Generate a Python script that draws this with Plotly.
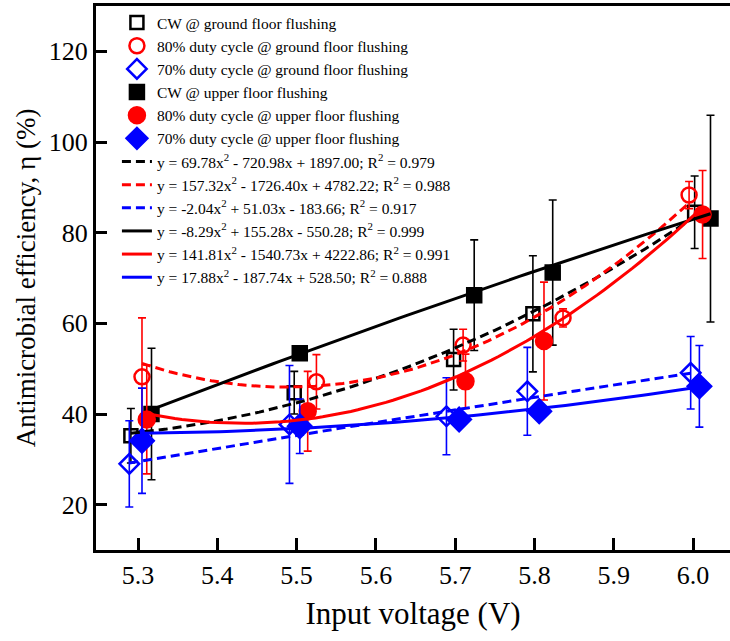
import numpy as np
import plotly.graph_objects as go

# ---- data ----
gnd_cw_x = [5.291, 5.497, 5.698, 5.798, 6.002]
gnd_cw_y = [35.2, 44.7, 52.0, 62.1, 84.5]
gnd_cw_e = [6.0, 4.7, 6.7, 12.8, 8.0]

gnd_80_x = [5.305, 5.525, 5.710, 5.836, 5.995]
gnd_80_y = [48.2, 47.1, 55.2, 61.2, 88.3]
gnd_80_e = [13.0, 6.0, 3.5, 2.0, 3.0]

gnd_70_x = [5.289, 5.491, 5.689, 5.791, 5.997]
gnd_70_y = [29.0, 37.7, 39.5, 45.0, 49.1]
gnd_70_e = [9.5, 13.0, 8.5, 9.7, 8.0]

up_cw_x = [5.317, 5.504, 5.724, 5.823, 6.022]
up_cw_y = [40.0, 53.4, 66.2, 71.2, 83.1]
up_cw_e = [14.5, 1.5, 12.2, 16.0, 22.8]

up_80_x = [5.311, 5.514, 5.713, 5.812, 6.012]
up_80_y = [38.8, 40.6, 47.2, 56.1, 84.0]
up_80_e = [12.0, 8.8, 6.0, 13.0, 9.7]

up_70_x = [5.305, 5.504, 5.705, 5.806, 6.008]
up_70_y = [34.1, 37.3, 38.8, 40.6, 46.1]
up_70_e = [11.6, 6.0, 1.5, 1.5, 9.0]

# quadratic fit coefficients (a, b, c) and R^2 as printed in the legend
fit_gnd_cw = [69.78, -720.98, 1897.00, 0.979]
fit_gnd_80 = [157.32, -1726.40, 4782.22, 0.988]
fit_gnd_70 = [-2.04, 51.03, -183.66, 0.917]
fit_up_cw = [-8.29, 155.28, -550.28, 0.999]
fit_up_80 = [141.81, -1540.73, 4222.86, 0.991]
fit_up_70 = [17.88, -187.74, 528.50, 0.888]

x_ticks = [5.3, 5.4, 5.5, 5.6, 5.7, 5.8, 5.9, 6.0]
x_tick_text = ["5.3", "5.4", "5.5", "5.6", "5.7", "5.8", "5.9", "6.0"]
y_ticks = [20, 40, 60, 80, 100, 120]

BLACK, RED, BLUE = "#000000", "#ff0000", "#0000ff"
FONT = "Liberation Serif"

fig = go.Figure()

marker_series = [
    ("CW @ ground floor flushing", gnd_cw_x, gnd_cw_y, gnd_cw_e, BLACK, "square-open", 13),
    ("80% duty cycle @ ground floor flushing", gnd_80_x, gnd_80_y, gnd_80_e, RED, "circle-open", 15),
    ("70% duty cycle @ ground floor flushing", gnd_70_x, gnd_70_y, gnd_70_e, BLUE, "diamond-open", 15),
    ("CW @ upper floor flushing", up_cw_x, up_cw_y, up_cw_e, BLACK, "square", 14),
    ("80% duty cycle @ upper floor flushing", up_80_x, up_80_y, up_80_e, RED, "circle", 16),
    ("70% duty cycle @ upper floor flushing", up_70_x, up_70_y, up_70_e, BLUE, "diamond", 18),
]

for name, xs, ys, es, col, sym, sz in marker_series:
    fig.add_trace(go.Scatter(
        x=xs, y=ys, mode="markers", name=name,
        marker=dict(symbol=sym, size=sz, color=col,
                    line=dict(color=col, width=2.5)),
        error_y=dict(type="data", array=es, visible=True, color=col,
                     thickness=1.6, width=4),
    ))


def fmt_eq(c):
    a, b, k, r2 = c
    s = f"y = {a:.2f}x<sup>2</sup> {'-' if b < 0 else '+'} {abs(b):.2f}x {'-' if k < 0 else '+'} {abs(k):.2f}; R<sup>2</sup> = {r2:.3f}"
    return s


fit_series = [
    (fit_gnd_cw, gnd_cw_x, BLACK, "dash"),
    (fit_gnd_80, gnd_80_x, RED, "dash"),
    (fit_gnd_70, gnd_70_x, BLUE, "dash"),
    (fit_up_cw, up_cw_x, BLACK, "solid"),
    (fit_up_80, up_80_x, RED, "solid"),
    (fit_up_70, up_70_x, BLUE, "solid"),
]

for c, xs, col, dash in fit_series:
    xf = np.linspace(min(xs), max(xs), 80)
    yf = c[0] * xf ** 2 + c[1] * xf + c[2]
    fig.add_trace(go.Scatter(
        x=xf, y=yf, mode="lines", name=fmt_eq(c),
        line=dict(color=col, width=3, dash=("9px,5px" if dash == "dash" else "solid")),
    ))

fig.update_layout(
    width=730, height=641,
    margin=dict(l=96, r=0, t=6, b=91),
    paper_bgcolor="white", plot_bgcolor="white",
    font=dict(family=FONT, color="black"),
    showlegend=True,
    legend=dict(x=0.033, y=1.0, xanchor="left", yanchor="top",
                bgcolor="rgba(0,0,0,0)", borderwidth=0,
                font=dict(family=FONT, size=15.5, color="black"),
                tracegroupgap=0, itemwidth=30),
    xaxis=dict(range=[5.247, 6.0466], tickvals=x_ticks, ticktext=x_tick_text,
               ticks="inside", ticklen=12, tickwidth=2.5, tickcolor="black",
               showline=True, linewidth=3, linecolor="black", mirror=True,
               showgrid=False, zeroline=False,
               tickfont=dict(family=FONT, size=26),
               title=dict(text="Input voltage (V)", font=dict(family=FONT, size=31), standoff=14)),
    yaxis=dict(range=[10, 130], tickvals=y_ticks,
               ticks="inside", ticklen=11, tickwidth=2.5, tickcolor="black",
               showline=True, linewidth=3, linecolor="black", mirror=False,
               showgrid=False, zeroline=False,
               tickfont=dict(family=FONT, size=26),
               title=dict(text="Antimicrobial efficiency, η (%)", font=dict(family=FONT, size=27), standoff=6)),
)

fig.write_html("out.html")
